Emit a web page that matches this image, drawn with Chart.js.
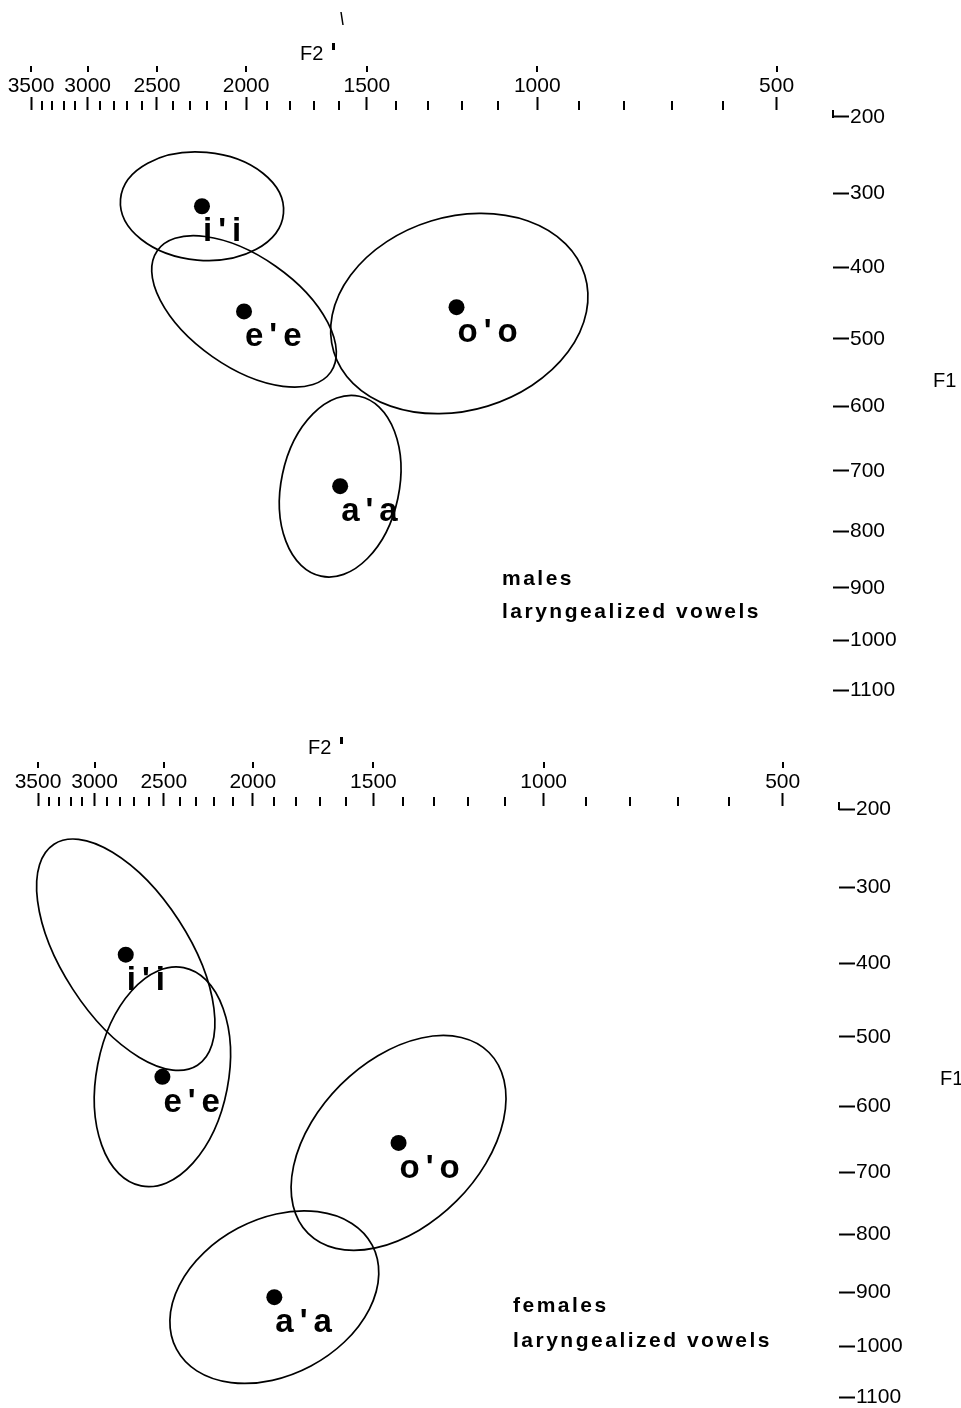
<!DOCTYPE html>
<html><head><meta charset="utf-8">
<script src="https://cdn.jsdelivr.net/npm/chart.js@4/dist/chart.umd.min.js"></script>
<style>
html,body{margin:0;padding:0;background:#fff;}
#wrap{position:relative;width:961px;height:1408px;overflow:hidden;background:#fff;}
canvas{display:block;position:absolute;left:0;}
</style></head><body>
<div id="wrap">
<canvas id="top" width="961" height="704" style="top:0"></canvas>
<canvas id="bot" width="961" height="704" style="top:704px"></canvas>
</div>
<script>
// ---- data ----
const F2_TICKS = [3500, 3000, 2500, 2000, 1500, 1000, 500];
const F2_MINOR = [3400,3300,3200,3100,2900,2800,2700,2600,2400,2300,2200,2100,1900,1800,1700,1600,1400,1300,1200,1100,900,800,700,600];
const F1_TICKS = [200, 300, 400, 500, 600, 700, 800, 900, 1000, 1100];
const VOWELS = ["i'i", "e'e", "o'o", "a'a"];

// males, laryngealized vowels: vowel means (Hz)
const MALE_F2 = [2230, 2010, 1215, 1597];
const MALE_F1 = [317, 461, 455, 725];
// dispersion ellipses: centre (Hz), semi-axes (Bark), orientation (degrees)
const MALE_ELL_F2 = [2230, 2010, 1207, 1597];
const MALE_ELL_F1 = [317, 461, 464, 725];
const MALE_SD_F2 = [1.29, 1.67, 2.07, 0.93];
const MALE_SD_F1 = [0.675, 0.69, 1.21, 1.15];
const MALE_ANGLE = [5, 35, -17, 12];

// females, laryngealized vowels
const FEMALE_F2 = [2761, 2509, 1414, 1898];
const FEMALE_F1 = [388, 557, 655, 909];
const FEMALE_ELL_F2 = [2761, 2509, 1414, 1898];
const FEMALE_ELL_F1 = [388, 557, 655, 909];
const FEMALE_SD_F2 = [2.08, 1.04, 2.02, 1.75];
const FEMALE_SD_F1 = [0.77, 1.355, 1.0, 0.95];
const FEMALE_ANGLE = [57, 11, -45, -28];

// ---- Bark scale ----
function bark(f){ return 13*Math.atan(0.00076*f) + 3.5*Math.atan(Math.pow(f/7500,2)); }
function invBark(z){ let lo=0, hi=20000; for(let i=0;i<60;i++){ const m=(lo+hi)/2; if(bark(m)<z) lo=m; else hi=m; } return (lo+hi)/2; }

class BarkScale extends Chart.LinearScale {
  configure(){
    super.configure();
    this._startValue = bark(this.min);
    this._endValue = bark(this.max);
    this._valueRange = this._endValue - this._startValue;
  }
  getPixelForValue(v){
    return (v === null || v === undefined) ? NaN : this.getPixelForDecimal((bark(v) - this._startValue) / this._valueRange);
  }
  getValueForPixel(p){
    return invBark(this._startValue + this.getDecimalForPixel(p) * this._valueRange);
  }
}
BarkScale.id = 'bark';
BarkScale.defaults = Chart.LinearScale.defaults;
Chart.register(BarkScale);

const FONT = '"Liberation Sans", Arial, sans-serif';

function makePlugin(c){
  return {
    id: 'vowelPlot_' + c.id,
    beforeDatasetsDraw(chart){
      const {ctx, chartArea} = chart;
      const xs = chart.scales.x, ys = chart.scales.y;
      ctx.save();
      ctx.strokeStyle = '#000';
      ctx.lineWidth = 2;
      ctx.beginPath();
      F2_MINOR.forEach(v => {
        const px = Math.round(xs.getPixelForValue(v));
        ctx.moveTo(px, chartArea.top - 9); ctx.lineTo(px, chartArea.top);
      });
      F2_TICKS.forEach(v => {
        const px = Math.round(xs.getPixelForValue(v));
        ctx.moveTo(px, chartArea.top - 44); ctx.lineTo(px, chartArea.top - 38);
      });
      const y200 = Math.round(ys.getPixelForValue(F1_TICKS[0]));
      ctx.moveTo(chartArea.right, y200 - 7); ctx.lineTo(chartArea.right, y200 + 1);
      ctx.stroke();

      // dispersion ellipses
      const kx = Math.abs(xs.getPixelForValue(xs.max) - xs.getPixelForValue(xs.min)) / Math.abs(bark(xs.max) - bark(xs.min));
      const ky = Math.abs(ys.getPixelForValue(ys.max) - ys.getPixelForValue(ys.min)) / Math.abs(bark(ys.max) - bark(ys.min));
      ctx.lineWidth = 1.7;
      c.ef2.forEach((f2, i) => {
        const cx = xs.getPixelForValue(f2), cy = ys.getPixelForValue(c.ef1[i]);
        ctx.beginPath();
        ctx.ellipse(cx, cy, c.sdF2[i]*kx, c.sdF1[i]*ky, c.angle[i]*Math.PI/180, 0, Math.PI*2);
        ctx.stroke();
      });
      ctx.restore();
    },
    afterDraw(chart){
      const {ctx, chartArea} = chart;
      const meta = chart.getDatasetMeta(0);
      ctx.save();
      ctx.fillStyle = '#000';
      ctx.textAlign = 'left';
      ctx.textBaseline = 'alphabetic';
      // vowel labels
      ctx.font = 'bold 33px ' + FONT;
      ctx.letterSpacing = '6px';
      meta.data.forEach((pt, i) => {
        ctx.fillText(VOWELS[i], pt.x + 1, pt.y + 35);
      });
      // group caption
      ctx.font = 'bold 21px ' + FONT;
      ctx.letterSpacing = '2.5px';
      ctx.fillText(c.caption[0], chartArea.left + c.capDX, c.capY[0]);
      ctx.fillText(c.caption[1], chartArea.left + c.capDX, c.capY[1]);
      // axis titles
      ctx.letterSpacing = '0px';
      ctx.font = '20px ' + FONT;
      ctx.fillText('F2', c.f2Title[0], c.f2Title[1]);
      ctx.fillText('F1', c.f1Title[0], c.f1Title[1]);
      ctx.fillRect(c.f2Title[0] + 32, c.f2Title[1] - 17, 3, 7);
      if (c.stray) {
        ctx.lineWidth = 1.5; ctx.strokeStyle = '#000';
        ctx.beginPath(); ctx.moveTo(c.stray[0], c.stray[1]); ctx.lineTo(c.stray[0] + 2, c.stray[1] + 13); ctx.stroke();
      }
      ctx.restore();
    }
  };
}

function makeChart(c){
  const data = c.f2.map((x, i) => ({x: x, y: c.f1[i]}));
  return new Chart(document.getElementById(c.id), {
    type: 'scatter',
    data: { datasets: [{ data: data, pointRadius: 8, pointBackgroundColor: '#000', pointBorderWidth: 0, showLine: false }] },
    options: {
      responsive: false, animation: false, events: [],
      layout: { padding: { left: c.left, right: 0, top: 0, bottom: c.bottom } },
      plugins: { legend: { display: false }, tooltip: { enabled: false } },
      scales: {
        x: {
          type: 'bark', position: 'top', reverse: true, min: 400, max: 3500, bounds: 'data',
          afterBuildTicks: s => { s.ticks = F2_TICKS.map(v => ({value: v})); },
          afterFit: s => { s.height = c.xh; s.paddingLeft = 0; s.paddingRight = 0; },
          grid: { drawOnChartArea: false, drawTicks: true, tickLength: 13, tickWidth: 2, tickColor: '#000' },
          border: { display: false },
          ticks: { autoSkip: false, maxRotation: 0, minRotation: 0, padding: 0, color: '#000',
                   font: { family: FONT, size: 21, lineHeight: 1 }, callback: v => String(v) }
        },
        y: {
          type: 'bark', position: 'right', reverse: true, min: c.ymin, max: 1100, bounds: 'data',
          afterBuildTicks: s => { s.ticks = F1_TICKS.map(v => ({value: v})); },
          afterFit: s => { s.width = c.yw; s.paddingTop = 0; s.paddingBottom = 0; },
          grid: { drawOnChartArea: false, drawTicks: true, tickLength: 16, tickWidth: 2, tickColor: '#000' },
          border: { display: false },
          ticks: { autoSkip: false, padding: 1, color: '#000',
                   font: { family: FONT, size: 21, lineHeight: 1 }, callback: v => String(v) }
        }
      }
    },
    plugins: [makePlugin(c)]
  });
}

makeChart({
  id: 'top', f2: MALE_F2, f1: MALE_F1, ef2: MALE_ELL_F2, ef1: MALE_ELL_F1,
  sdF2: MALE_SD_F2, sdF1: MALE_SD_F1, angle: MALE_ANGLE,
  left: 31, bottom: 14, xh: 110, yw: 128, ymin: 191,
  caption: ['males', 'laryngealized vowels'], capDX: 471, capY: [585, 618],
  f2Title: [300, 60], f1Title: [933, 387], stray: [341, 12]
});
makeChart({
  id: 'bot', f2: FEMALE_F2, f1: FEMALE_F1, ef2: FEMALE_ELL_F2, ef1: FEMALE_ELL_F1,
  sdF2: FEMALE_SD_F2, sdF1: FEMALE_SD_F1, angle: FEMALE_ANGLE,
  left: 38, bottom: 11, xh: 102, yw: 122, ymin: 196,
  caption: ['females', 'laryngealized vowels'], capDX: 475, capY: [608, 643],
  f2Title: [308, 50], f1Title: [940, 381], stray: null
});
</script>
</body></html>
